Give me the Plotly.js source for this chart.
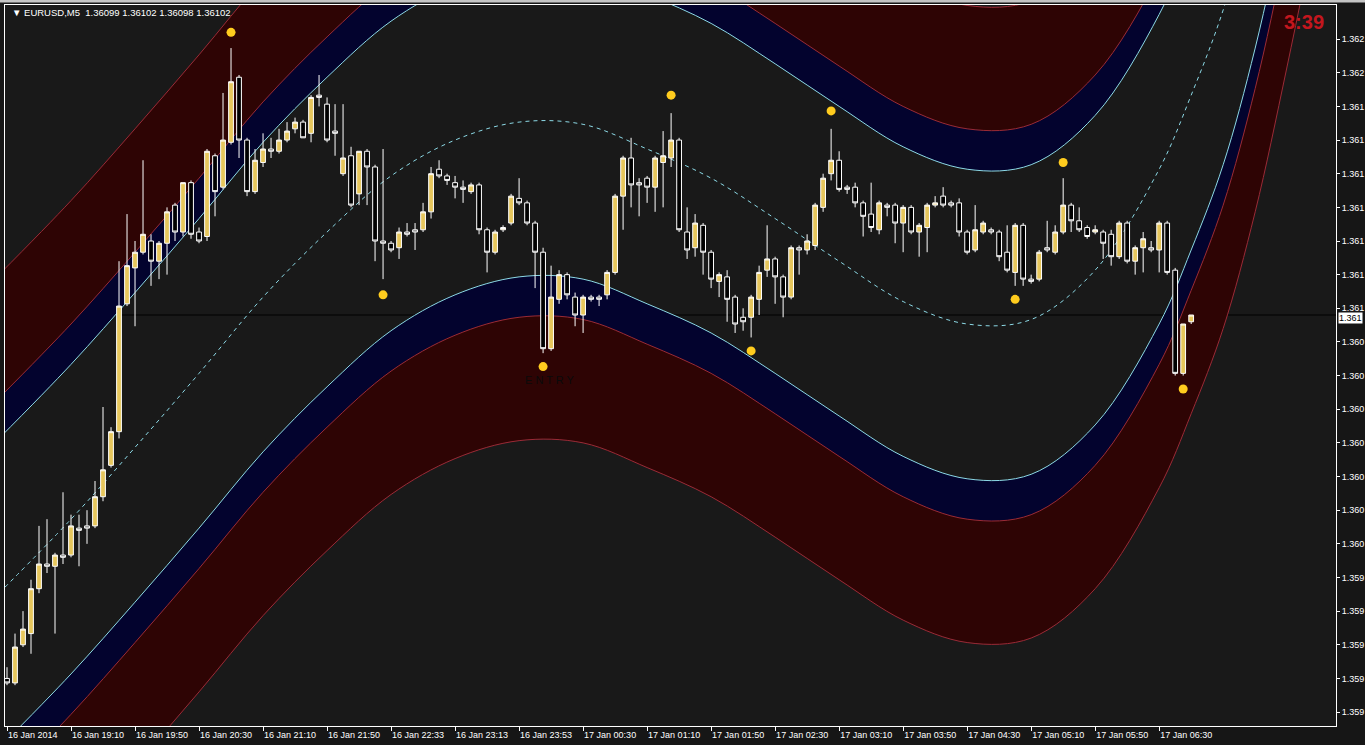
<!DOCTYPE html>
<html>
<head>
<meta charset="utf-8">
<script src="https://cdn.plot.ly/plotly-3.0.1.min.js"></script>
<style>html,body{margin:0;padding:0;background:#161616;}#chart{width:1365px;height:745px;}</style>
</head>
<body>
<div id="chart"></div>
<script>
// ---- candle data (EURUSD M5), bar index = position in arrays ----
const opens = [1.35940,1.35938,1.35955,1.35960,1.35980,1.35991,1.35990,1.35995,1.35995,1.36007,1.36008,1.36008,1.36021,1.36035,1.36050,1.36107,1.36123,1.36130,1.36135,1.36126,1.36134,1.36151,1.36139,1.36161,1.36139,1.36137,1.36173,1.36159,1.36179,1.36208,1.36180,1.36157,1.36170,1.36176,1.36175,1.36180,1.36185,1.36188,1.36183,1.36200,1.36196,1.36184,1.36165,1.36173,1.36156,1.36175,1.36168,1.36135,1.36134,1.36132,1.36139,1.36140,1.36140,1.36148,1.36167,1.36164,1.36161,1.36159,1.36157,1.36160,1.36140,1.36130,1.36140,1.36143,1.36154,1.36152,1.36143,1.36130,1.36087,1.36109,1.36120,1.36110,1.36102,1.36110,1.36110,1.36111,1.36121,1.36155,1.36172,1.36161,1.36163,1.36159,1.36170,1.36172,1.36180,1.36139,1.36132,1.36142,1.36130,1.36117,1.36119,1.36110,1.36101,1.36101,1.36109,1.36122,1.36127,1.36119,1.36110,1.36132,1.36131,1.36133,1.36150,1.36165,1.36171,1.36159,1.36159,1.36152,1.36147,1.36140,1.36151,1.36151,1.36143,1.36150,1.36139,1.36141,1.36151,1.36155,1.36152,1.36152,1.36139,1.36131,1.36139,1.36140,1.36139,1.36130,1.36121,1.36142,1.36118,1.36118,1.36132,1.36130,1.36139,1.36151,1.36144,1.36141,1.36139,1.36139,1.36138,1.36128,1.36143,1.36126,1.36132,1.36132,1.36131,1.36143,1.36122,1.36076,1.36099];
const highs = [1.35945,1.35960,1.35970,1.35984,1.36008,1.36011,1.35996,1.36023,1.36013,1.36013,1.36015,1.36028,1.36061,1.36052,1.36126,1.36147,1.36135,1.36171,1.36138,1.36135,1.36150,1.36152,1.36161,1.36162,1.36141,1.36176,1.36174,1.36201,1.36221,1.36209,1.36181,1.36176,1.36183,1.36181,1.36185,1.36188,1.36190,1.36189,1.36200,1.36209,1.36199,1.36196,1.36196,1.36177,1.36175,1.36176,1.36169,1.36176,1.36135,1.36141,1.36143,1.36143,1.36152,1.36168,1.36171,1.36165,1.36164,1.36162,1.36161,1.36161,1.36141,1.36140,1.36142,1.36156,1.36163,1.36153,1.36144,1.36132,1.36124,1.36122,1.36121,1.36112,1.36111,1.36111,1.36111,1.36122,1.36156,1.36173,1.36181,1.36163,1.36164,1.36173,1.36184,1.36192,1.36181,1.36150,1.36147,1.36143,1.36131,1.36121,1.36122,1.36111,1.36105,1.36111,1.36124,1.36142,1.36128,1.36120,1.36133,1.36133,1.36138,1.36152,1.36165,1.36185,1.36175,1.36160,1.36161,1.36153,1.36161,1.36153,1.36152,1.36152,1.36151,1.36151,1.36143,1.36152,1.36155,1.36159,1.36153,1.36154,1.36140,1.36151,1.36144,1.36141,1.36140,1.36142,1.36143,1.36143,1.36120,1.36131,1.36144,1.36142,1.36163,1.36152,1.36150,1.36142,1.36142,1.36140,1.36140,1.36144,1.36144,1.36133,1.36139,1.36135,1.36144,1.36144,1.36123,1.36098,1.36102];
const lows = [1.35937,1.35937,1.35954,1.35951,1.35978,1.35987,1.35960,1.35991,1.35994,1.35990,1.36000,1.36007,1.36019,1.36034,1.36047,1.36106,1.36097,1.36129,1.36115,1.36118,1.36120,1.36135,1.36137,1.36136,1.36134,1.36135,1.36146,1.36158,1.36178,1.36172,1.36155,1.36156,1.36168,1.36172,1.36174,1.36179,1.36183,1.36181,1.36179,1.36195,1.36179,1.36173,1.36164,1.36150,1.36151,1.36151,1.36126,1.36118,1.36130,1.36127,1.36137,1.36131,1.36139,1.36145,1.36163,1.36160,1.36154,1.36152,1.36156,1.36138,1.36121,1.36129,1.36139,1.36142,1.36151,1.36142,1.36114,1.36085,1.36086,1.36107,1.36109,1.36097,1.36094,1.36108,1.36106,1.36109,1.36120,1.36140,1.36150,1.36146,1.36152,1.36148,1.36150,1.36168,1.36139,1.36127,1.36128,1.36120,1.36114,1.36110,1.36099,1.36094,1.36095,1.36092,1.36102,1.36119,1.36107,1.36101,1.36109,1.36120,1.36129,1.36131,1.36148,1.36162,1.36157,1.36156,1.36150,1.36137,1.36139,1.36138,1.36146,1.36134,1.36130,1.36138,1.36128,1.36130,1.36150,1.36150,1.36150,1.36137,1.36129,1.36130,1.36138,1.36138,1.36126,1.36121,1.36115,1.36115,1.36116,1.36117,1.36130,1.36129,1.36138,1.36139,1.36139,1.36136,1.36138,1.36127,1.36124,1.36127,1.36125,1.36120,1.36121,1.36130,1.36121,1.36120,1.36075,1.36075,1.36098];
const closes = [1.35938,1.35954,1.35962,1.35980,1.35991,1.35990,1.35995,1.35994,1.36008,1.36006,1.36007,1.36021,1.36033,1.36050,1.36106,1.36124,1.36130,1.36138,1.36126,1.36134,1.36148,1.36139,1.36161,1.36138,1.36135,1.36175,1.36157,1.36180,1.36206,1.36180,1.36157,1.36171,1.36176,1.36175,1.36180,1.36184,1.36188,1.36181,1.36199,1.36199,1.36180,1.36183,1.36172,1.36151,1.36175,1.36168,1.36135,1.36134,1.36131,1.36139,1.36138,1.36139,1.36148,1.36165,1.36164,1.36162,1.36159,1.36158,1.36160,1.36140,1.36130,1.36139,1.36141,1.36155,1.36152,1.36143,1.36130,1.36087,1.36110,1.36120,1.36111,1.36102,1.36110,1.36109,1.36109,1.36121,1.36155,1.36172,1.36160,1.36160,1.36159,1.36172,1.36173,1.36180,1.36140,1.36131,1.36143,1.36130,1.36118,1.36120,1.36109,1.36098,1.36099,1.36110,1.36121,1.36127,1.36119,1.36110,1.36132,1.36131,1.36135,1.36151,1.36163,1.36171,1.36158,1.36158,1.36152,1.36146,1.36141,1.36152,1.36150,1.36143,1.36150,1.36139,1.36142,1.36151,1.36152,1.36151,1.36151,1.36139,1.36130,1.36140,1.36143,1.36139,1.36128,1.36122,1.36142,1.36118,1.36117,1.36130,1.36131,1.36139,1.36151,1.36144,1.36140,1.36137,1.36140,1.36134,1.36128,1.36143,1.36126,1.36132,1.36136,1.36131,1.36143,1.36121,1.36076,1.36098,1.36102];

// ---- fractal dots ----
const dotBars   = [28, 47, 67, 83, 93, 103, 126, 132, 147];
const dotPrices = [1.36228, 1.36111, 1.36079, 1.36200, 1.36086, 1.36193, 1.36109, 1.36170, 1.36069];

// ---- regression channel: middle line, band half-widths ----
const bandBars = [-1, 8, 16, 24, 32, 40, 48, 56, 64, 72, 80, 88, 96, 104, 112, 120, 128, 136, 144, 148, 152, 156, 160, 166];
const bandMid  = [1.35978, 1.36011, 1.36043, 1.36076, 1.36110, 1.36139, 1.36164, 1.36180, 1.36188, 1.36187, 1.36176, 1.36163, 1.36145, 1.36126, 1.36108, 1.36098, 1.36100, 1.36122, 1.36167, 1.36200, 1.36238, 1.36290, 1.36355, 1.36460];
const cyanHalfWidth  = 0.00069;
const innerHalfWidth = 0.00087;
const outerHalfWidth = 0.00142;

// ---- axis labels ----
const xTickBars = [0, 8, 16, 24, 32, 40, 48, 56, 64, 72, 80, 88, 96, 104, 112, 120, 128, 136, 144];
const xTickLabels = ["16 Jan 2014","16 Jan 19:10","16 Jan 19:50","16 Jan 20:30","16 Jan 21:10","16 Jan 21:50","16 Jan 22:33","16 Jan 23:13","16 Jan 23:53","17 Jan 00:30","17 Jan 01:10","17 Jan 01:50","17 Jan 02:30","17 Jan 03:10","17 Jan 03:50","17 Jan 04:30","17 Jan 05:10","17 Jan 05:50","17 Jan 06:30"];
const yTickValues = [1.36225,1.36210,1.36195,1.36180,1.36165,1.36150,1.36135,1.36120,1.36105,1.36090,1.36075,1.36060,1.36045,1.36030,1.36015,1.36000,1.35985,1.35970,1.35955,1.35940,1.35925];
const yTickLabels = ["1.362","1.362","1.361","1.361","1.361","1.361","1.361","1.361","1.361","1.360","1.360","1.360","1.360","1.360","1.360","1.360","1.359","1.359","1.359","1.359","1.359"];

const symbolHeader = "\u25BC EURUSD,M5\u00A0\u00A01.36099 1.36102 1.36098 1.36102";
const lastPrice = closes[closes.length - 1];

const RED = '#9a2a36', CYAN = '#8cd9e6', NAVY = '#03032e', DARKRED = '#2e0404';
const shift = (arr, d) => arr.map(v => +(v + d).toFixed(5));
const X_RANGE = [-0.25, 166.1];
const Y_RANGE = [1.359188, 1.362402];

function band(y, color, fill, fillcolor, dash) {
  return {type:'scatter', mode:'lines', x: bandBars, y: y, xaxis:'x', yaxis:'y',
    line:{color:color, width:1, shape:'spline', smoothing:1, dash: dash || 'solid'},
    fill: fill || 'none', fillcolor: fillcolor, hoverinfo:'skip', showlegend:false};
}

const traces = [
  band(shift(bandMid,  outerHalfWidth), RED),
  band(shift(bandMid,  innerHalfWidth), RED, 'tonexty', DARKRED),
  band(shift(bandMid,  cyanHalfWidth),  CYAN, 'tonexty', NAVY),
  band(bandMid, CYAN, 'none', null, '4px,4px'),
  band(shift(bandMid, -cyanHalfWidth),  CYAN),
  band(shift(bandMid, -innerHalfWidth), RED, 'tonexty', NAVY),
  band(shift(bandMid, -outerHalfWidth), RED, 'tonexty', DARKRED),
  // candles and dots live on an overlaying subplot so they are drawn above the channel fills
  {type:'candlestick', xaxis:'x2', yaxis:'y2', x: opens.map((_, i) => i), open: opens, high: highs, low: lows, close: closes,
    increasing:{line:{color:'#ffffff', width:1}, fillcolor:'#e6c65c'},
    decreasing:{line:{color:'#ffffff', width:1}, fillcolor:'#000000'},
    whiskerwidth:0, hoverinfo:'skip', showlegend:false},
  {type:'scatter', mode:'markers', xaxis:'x2', yaxis:'y2', x: dotBars, y: dotPrices,
    marker:{color:'#ffcc1e', size:9, line:{width:0}}, hoverinfo:'skip', showlegend:false}
];

const FONT = 'Liberation Sans, Arial, sans-serif';
const layout = {
  width:1365, height:745,
  margin:{l:5, r:29, t:5, b:19},
  paper_bgcolor:'#161616', plot_bgcolor:'#191919',
  showlegend:false, boxgap:0.15,
  xaxis:{range:X_RANGE, tickmode:'array', tickvals:xTickBars, ticktext:xTickLabels,
    ticks:'outside', ticklen:4, tickcolor:'#ffffff', ticklabelposition:'outside right',
    tickfont:{family:FONT, size:9, color:'#ffffff'}, showgrid:false, zeroline:false,
    showline:true, linecolor:'#ffffff', linewidth:1, mirror:true,
    rangeslider:{visible:false}, fixedrange:true},
  yaxis:{side:'right', range:Y_RANGE, tickmode:'array', tickvals:yTickValues, ticktext:yTickLabels,
    ticks:'outside', ticklen:3, tickcolor:'#ffffff',
    tickfont:{family:FONT, size:9, color:'#ffffff'}, showgrid:false, zeroline:false,
    showline:true, linecolor:'#ffffff', linewidth:1, mirror:true, fixedrange:true},
  xaxis2:{overlaying:'x', range:X_RANGE, visible:false, showgrid:false, zeroline:false,
    rangeslider:{visible:false}, fixedrange:true},
  yaxis2:{overlaying:'y', side:'right', range:Y_RANGE, visible:false, showgrid:false, zeroline:false, fixedrange:true},
  shapes:[
    {type:'line', xref:'paper', yref:'y', x0:0, x1:1, y0:lastPrice, y1:lastPrice, line:{color:'#000000', width:1}, layer:'below'},
    {type:'rect', xref:'paper', yref:'paper', x0:-0.01, x1:1.03, y0:1.0035, y1:1.02, fillcolor:'#c4c4c4', line:{width:0}, layer:'above'}
  ],
  annotations:[
    {xref:'paper', yref:'paper', x:0.004, y:0.989, xanchor:'left', yanchor:'middle', showarrow:false,
      text:symbolHeader, font:{family:FONT, size:9.5, color:'#ffffff'}},
    {xref:'paper', yref:'paper', x:0.976, y:0.9765, xanchor:'center', yanchor:'middle', showarrow:false,
      text:'<b>3:39</b>', font:{family:FONT, size:20, color:'#c4161e'}},
    {xref:'x', yref:'y', x:67.9, y:1.36073, xanchor:'center', yanchor:'middle', showarrow:false,
      text:'E N T R Y', font:{family:FONT, size:11, color:'#0a0a0a'}},
    {xref:'paper', yref:'y', x:1, y:lastPrice, xanchor:'left', yanchor:'middle', xshift:2, yshift:-3, showarrow:false,
      text:'1.361', bgcolor:'#ffffff', borderpad:0, font:{family:FONT, size:9, color:'#000000'}}
  ]
};

Plotly.newPlot('chart', traces, layout, {staticPlot:true, displayModeBar:false});
</script>
</body>
</html>
